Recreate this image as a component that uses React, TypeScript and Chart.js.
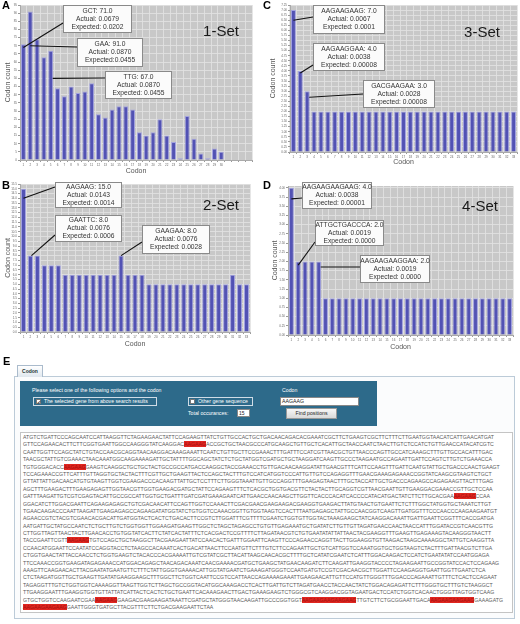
import React, { useEffect, useRef } from "react";
import { Chart, registerables } from "chart.js";

Chart.register(...registerables);

const FONT = '"Liberation Sans", Arial, sans-serif';

// ---------- Data ----------
const codonsA = ["1","2","3","4","5","6","7","8","9","10","11","12","13","14","15","16","17","18","19","20","21","22","23","24","25","26","27","28","29","30","","","",""];
const countsA = [71, 91, 74, 63, 67, 44, 39, 45, 41, 42, 47, 28, 26, 31, 33, 33, 31, 17, 15, 17, 25, 15, 11, 1, 27, 13, 4, 1, 7, 5];

const codonsB = ["1","2","3","4","5","6","7","8","9","10","11","12","13","14","15","16","17","18","19","20","21","22","23","24","25","26","27","28","29","30","31","32","33"];
const countsB = [15, 8, 8, 7, 7, 7, 6, 6, 6, 6, 6, 6, 6, 6, 8, 6, 6, 6, 5, 5, 5, 5, 5, 5, 5, 5, 5, 5, 5, 5, 6, 5, 5];

const codonsC = ["1","2","3","4","5","6","7","8","9","10","11","12","13","14","15","16","17","18","19","20","21","22","23","24","25","26","27","28","29","30","31","32","33"];
const countsC = [7, 4, 3, 2, 2, 2, 2, 2, 2, 2, 2, 2, 2, 2, 2, 2, 2, 2, 2, 2, 2, 2, 2, 2, 2, 2, 2, 2, 2, 2, 2, 2, 2];

const codonsD = ["1","2","3","4","5","6","7","8","9","10","11","12","13","14","15","16","17","18","19","20","21","22","23","24","25","26","27","28","29","30","31","32","33"];
const countsD = [4, 2, 2, 2, 2, 1, 1, 1, 1, 1, 1, 1, 1, 1, 1, 1, 1, 1, 1, 1, 1, 1, 1, 1, 1, 1, 1, 1, 1, 1, 1, 1, 1];

const notesTextA = [
  ["GCT: 71.0", "Actual: 0.0679", "Expected: 0.0202"],
  ["GAA: 91.0", "Actual: 0.0870", "Expected:0.0455"],
  ["TTG: 67.0", "Actual: 0.0870", "Expected: 0.0455"],
];
const notesTextB = [
  ["AAGAAG: 15.0", "Actual: 0.0143", "Expected: 0.0014"],
  ["GAATTC: 8.0", "Actual: 0.0076", "Expected: 0.0006"],
  ["GAAGAA: 8.0", "Actual: 0.0076", "Expected: 0.0028"],
];
const notesTextC = [
  ["AAGAAGAAG: 7.0", "Actual: 0.0067", "Expected: 0.0001"],
  ["AAGAAGGAA: 4.0", "Actual: 0.0038", "Expected: 0.00008"],
  ["GACGAAGAA: 3.0", "Actual: 0.0028", "Expected: 0.00008"],
];
const notesTextD = [
  ["AAGAAGAAGAAG: 4.0", "Actual: 0.0038", "Expected: 0.00001"],
  ["ATTGCTGACCCA: 2.0", "Actual: 0.0019", "Expected: 0.0000"],
  ["AAGAAGAAGGAA: 2.0", "Actual: 0.0019", "Expected: 0.0000"],
];

const sequenceLines = [
  "ATGTCTGATTCCCAGCAATCCATTAAGGTTCTAGAAGAACTATTCCAGAAGTTATCTGTTGCCACTGCTGACAACAGACACGAAATCGCTTCTGAAGTCGCTTCTTTCTTGAATGGTAACATCATTGAACATGAT",
  "GTTCCAGAACACTTCTTCGGTGAATTGGCCAAGGGTATCAAGGAC[AAGAAG]ACCGCTGCTAACGCCCATGCAAGCTGTTGCTCACATTGCTAACCAATCTAACTTGTCTCCATCTGTTGAACCATACATCGTC",
  "CAATTGGTTCCAGCTATCTGTACCAACGCAGGTAACAAGGACAAAGAAATTCAATCTGTTGCTTCCGAAACTTTGATTTCCATCGTTAACGCTGTTAACCCAGTTGCCATCAAAGCTTTGTTGCCACATTTGAC",
  "TAACGCTATTGTCGAAACTAACAAATGGCAAGAAAAGATTGCTATTTTGGCAGCTATCTCTGCTATGGTCGATGCTGCTAAGGATCAAGTTGCCCTAAGAATGCCAGAATTGATTCCAGTCTTGTCTGAAACCA",
  "TGTGGGACACC[AAGAAG]GAAGTCAAGGCTGCTGCTACTGCCGCCATGACCAAGGCTACCGAAACCTGTTGACAACAAGGATATTGAACGTTTCATTCCAAGTTTGATTCAATGTATTGCTGACCCAACTGAAGT",
  "TCCAGAAACCGTTCATTTGTTAGGTGCTACTACTTTCGTTGCTGAAGTTACTCCAGCTACTTTGTCCATCATGGTCCCATTGTTGTCCAGAGGTTTGAACGAAAGAGAAACCGGTATCAAGCGTAAGTCTGCT",
  "GTTATTATTGACAACATGTGTAAGTTGGTCGAAGACCCACAAGTTATTGCTCCTTTCTTGGGTAAATTGTTGCCAGGTTTGAAGAGTAACTTTGCTACCATTGCTGACCCAGAAGCCAGAGAAGTTACTTTGAG",
  "AGCTTTGAAGACTTTGAAGAGAGTTGGTAACGTTGGTGAAGACGATGCTATTCCAGAAGTTTCTCACGCTGGTGACGTTCTACTACTTGCAGGTCGTTAACGAATTGTTGAAGGACGAAACCGTTGCTCCAA",
  "GATTTAAGATTGTCGTCGAGTACATTGCCGCCATTGGTGCTGATTTGATCGATGAAAGAATCATTGAACCAACAAGCTTGGTTCACCCACATCACCCCATACATGACTATCTTCTTGCACGAA[AAGAAG]CCAA",
  "GGACATCTTGGACGAATTCAGAAGAGAGCTGTCGACAACATTCCAGTTGGTCCAAACTTCGACGAACGAAGAAGACGAAGGTGAAGACTTATGTAACTGTGAATTCTCTTTGGCTATGGTGCTAAATCTTGT",
  "TGAACAAGACCCAATTAAGATTGAAGAGAGCCAGAAGATATGGTATCTGTGGTCCAAACGGTTGTGGTAAGTCCACTTTAATGAGAGCTATTGCCAACGGTCAAGTTGATGGTTTCCCAACCCAAGAAGAATGT",
  "AGAACCGTCTACGTCGAACACGACATTGATGGTACTCACTCTGACACTTCCGTCTTGGATTTCGTTTTCGAATCTGGTGTTGGTACTAAAGAAGCTATCAAGGACAAATTGATTGAATTCGGTTTCACCGATGA",
  "AATGATTGCTATGCCAATCTCTGCTTGTCTGGTGGTTGGAAGATGAAGTTGGCTCTAGCTAGAGCCTGTGTTGAGAAATGCTGATATCTTGTTGTTAGATGAACCAACTAACCATTTGGATACCGTCAACGTTG",
  "CTTGGTTAGTTAACTACTTGAACACCTGTGGTATCACTTCTATCACTATTTCTCACGACTCCGTTTTCTTAGATAACGTCTGTGAATATATTATTAACTACGAAGGTTTGAAGTTGAGAAAGTACAAGGGTAACTT",
  "TACCGAATTCGTT[AAGAAG]TGTCCAGCTGCTAAGGCTTACGAAGAATTATCCAACACTGATTTGGAATTCAAGTTCCCAGAACCAGGTTACTTGGAAGGTGTTAAGACTAAGCAAAAGGCTATTGTCAAGGTTA",
  "CCAACATGGAATTCCAATATCCAGGTACCTCTAAGCCACAAATCACTGACATTAACTTCCAATGTTCTTTGTCTTCCAGAATTGCTGTCATTGGTCCAAATGGTGCTGGTAAGTCTACTTTGATTAACGTCTTGA",
  "CTGGTGAACTATTACCAACCTCTGGTGAAGTCTACACCCACGAAAATTGTCGTATCGCTTACATTAAGCAACACGCTTTTGCTCATATCGAATCTCATTTGGACAAGACTCCATCTGAATATATCCAATGGAGA",
  "TTCCAAACCGGTGAAGATAGAGAAACCATGGACAGAGCTAACAGACAAATCAACGAAAACGATGCTGAAGCTATGAACAAGATCTTCAAGATTGAAGGTACCCCTAGAAGAATTGCCGGTATCCACTCCAGAAG",
  "AAAGTTCAAGAACACTTACGAATATGAATGTTCTTTCTATTGGGTGAAAACATTGGTATGAATCTGAAAGATGGGTCCAATGATGTCCGTCGACAACGCTTGGATTCCAAGAGGTGAATTGGTTGAATCTCA",
  "CTCTAAGATGGTTGCTGAAGTTGATATGAAGGAAGCTTTGGCTTCTGGTCAATTCCGTCCATTAACCAGAAAAGAAATTGAAGAACATTGTTCCATGTTGGGTTTGGACCCAGAAATTGTTTCTCACTCCAGAAT",
  "TAGAGGTTTGTCTGGTGGTCAAAAGGTTAAGTTGGTCTTAGCTGCCGGTACATGGCAAAGACCTCACTTGATTGTCTTAGATGAACCTACCAACTATCTGGACAGAGATTCTTTGGGTGCTTTGTCTAAGGCT",
  "TTGAAGGAATTTGAAGGTGGTGTTATTATCATTACTCACTCTGCTGAATTCACAAAGAACTTGACTGAAAGAAGTCTGGGCGTCAAGGACGGTAGAATGACTCCATCTGGTCACAACTGGGTTAGTGGTCAAG",
  "GTGCTGGTCCAAGAATCGAA[AAGAAG]GAAGACGAAGAAGATAAATTCGATGCTATGGGTAACAAGATTGCCCGGTGGT[AAGAAGAAGAAGAAG]TTGTCTTCTGCGGAATTGACA[AAGAAGAAGAAG]GAAAGATG",
  "[AAGAAGAAGAAG]GAATTGGGTGATGCTTACGTTTCTTCTGACGAAGAATTCTAA",
];

// ---------- Panel layout (styling, not data) ----------
type Note = { lines: string[]; box: [number, number, number, number]; from: [number, number]; at: number; value: number; dx?: number };
type Spec = {
  left: number; top: number; w: number; h: number;
  yW: number; xH: number; padTop: number; padRight: number; yTitlePad: number;
  labels: string[]; values: number[]; max: number; step: number; dec: number;
  setName: string; setPos: [number, number]; notes: Note[];
};

const panels: Spec[] = [
  {
    left: 0, top: 0, w: 258, h: 176, yW: 20, xH: 16, padTop: 5, padRight: 6, yTitlePad: 4,
    labels: codonsA, values: countsA, max: 95, step: 5, dec: 0,
    setName: "1-Set", setPos: [221, 32],
    notes: [
      { lines: notesTextA[0], box: [63, 5, 69, 28], from: [63, 23], at: 0, value: 69 },
      { lines: notesTextA[1], box: [77, 38, 66, 29], from: [77, 47], at: 1, value: 70 },
      { lines: notesTextA[2], box: [105, 71, 67, 28], from: [105, 78], at: 4, value: 50, dx: 2 },
    ],
  },
  {
    left: 0, top: 178, w: 258, h: 171, yW: 20, xH: 17, padTop: 6, padRight: 8, yTitlePad: 4,
    labels: codonsB, values: countsB, max: 15.5, step: 0.5, dec: 1,
    setName: "2-Set", setPos: [221, 28],
    notes: [
      { lines: notesTextB[0], box: [55, 4, 67, 26], from: [55, 9], at: 0, value: 14 },
      { lines: notesTextB[1], box: [55, 37, 67, 27], from: [55, 57], at: 1, value: 8, dx: 1 },
      { lines: notesTextB[2], box: [142, 47, 68, 29], from: [142, 64], at: 14, value: 8 },
    ],
  },
  {
    left: 262, top: 0, w: 258, h: 167, yW: 28, xH: 15, padTop: 5, padRight: 3, yTitlePad: 7,
    labels: codonsC, values: countsC, max: 7.25, step: 0.25, dec: 2,
    setName: "3-Set", setPos: [220, 33],
    notes: [
      { lines: notesTextC[0], box: [51, 5, 72, 29], from: [51, 17], at: 0, value: 6.5 },
      { lines: notesTextC[1], box: [51, 43, 72, 28], from: [51, 65], at: 1, value: 3.9 },
      { lines: notesTextC[2], box: [101, 80, 72, 28], from: [101, 94], at: 2, value: 2.7, dx: 2 },
    ],
  },
  {
    left: 262, top: 178, w: 258, h: 174, yW: 26, xH: 17, padTop: 8, padRight: 7, yTitlePad: 9,
    labels: codonsD, values: countsD, max: 4.05, step: 0.25, dec: 2,
    setName: "4-Set", setPos: [218, 29],
    notes: [
      { lines: notesTextD[0], box: [40, 4, 70, 27], from: [40, 20], at: 0, value: 3.7 },
      { lines: notesTextD[1], box: [53, 42, 69, 26], from: [53, 64], at: 1, value: 1.9 },
      { lines: notesTextD[2], box: [98, 77, 70, 28], from: [98, 89], at: 4, value: 1.85, dx: 2 },
    ],
  },
];

function BarPanel({ spec }: { spec: Spec }) {
  const ref = useRef<HTMLCanvasElement>(null);
  useEffect(() => {
    const bgPlugin = {
      id: "plotBg",
      beforeDraw(chart: any) {
        const { ctx, chartArea } = chart;
        ctx.save();
        ctx.fillStyle = "#c8c8c8";
        ctx.fillRect(chartArea.left, chartArea.top, chartArea.right - chartArea.left, chartArea.bottom - chartArea.top);
        ctx.restore();
      },
    };
    const notesPlugin = {
      id: "notes",
      afterDatasetsDraw(chart: any) {
        const ctx = chart.ctx;
        const xs = chart.scales.x;
        const ys = chart.scales.y;
        ctx.save();
        ctx.font = `15px ${FONT}`;
        ctx.fillStyle = "#1a1a1a";
        ctx.textAlign = "center";
        ctx.textBaseline = "middle";
        ctx.fillText(spec.setName, spec.setPos[0], spec.setPos[1]);
        for (const n of spec.notes) {
          const tx = xs.getPixelForValue(n.at) + (n.dx || 0);
          const ty = ys.getPixelForValue(n.value);
          ctx.strokeStyle = "#111";
          ctx.lineWidth = 1.1;
          ctx.beginPath();
          ctx.moveTo(n.from[0], n.from[1]);
          ctx.lineTo(tx, ty);
          ctx.stroke();
          const [bx, by, bw, bh] = n.box;
          ctx.fillStyle = "#fbfbfb";
          ctx.fillRect(bx, by, bw, bh);
          ctx.strokeStyle = "#8a8a8a";
          ctx.lineWidth = 1;
          ctx.strokeRect(bx + 0.5, by + 0.5, bw - 1, bh - 1);
          ctx.fillStyle = "#333";
          ctx.font = `6.7px ${FONT}`;
          n.lines.forEach((t, i) => ctx.fillText(t, bx + bw / 2, by + bh / 2 + (i - 1) * 8));
        }
        ctx.restore();
      },
    };
    const chart = new Chart(ref.current as HTMLCanvasElement, {
      type: "bar",
      data: {
        labels: spec.labels,
        datasets: [
          {
            data: spec.values,
            backgroundColor: "#5252b4",
            borderColor: "#a3a3e0",
            borderWidth: 1,
            barPercentage: 0.72,
            categoryPercentage: 1,
          },
        ],
      },
      options: {
        animation: false,
        responsive: false,
        devicePixelRatio: 1,
        layout: { padding: { top: spec.padTop, right: spec.padRight, left: 0, bottom: 0 } },
        plugins: { legend: { display: false }, tooltip: { enabled: false } },
        scales: {
          x: {
            grid: { color: "rgba(226,226,226,0.85)", tickLength: 2, tickColor: "#999" },
            border: { color: "#aaa" },
            ticks: { font: { size: 3, family: FONT }, color: "#666", autoSkip: false, maxRotation: 0, minRotation: 0, padding: 1 },
            title: { display: true, text: "Codon", font: { size: 7, family: FONT }, color: "#555", padding: { top: 0, bottom: 1 } },
            afterFit: (s: any) => { s.height = spec.xH; },
          },
          y: {
            min: 0,
            max: spec.max,
            grid: { color: "rgba(226,226,226,0.85)", tickLength: 2, tickColor: "#999" },
            border: { color: "#aaa" },
            ticks: {
              stepSize: spec.step,
              autoSkip: false,
              includeBounds: false,
              font: { size: 3, family: FONT },
              color: "#666",
              padding: 1,
              callback: (v: any) => Number(v).toFixed(spec.dec),
            },
            title: { display: true, text: "Codon count", font: { size: 7, family: FONT }, color: "#555", padding: { top: spec.yTitlePad, bottom: 0 } },
            afterFit: (s: any) => { s.width = spec.yW; },
          },
        },
      } as any,
      plugins: [bgPlugin, notesPlugin],
    } as any);
    return () => chart.destroy();
  }, []);
  return (
    <canvas
      ref={ref}
      width={spec.w}
      height={spec.h}
      style={{ position: "absolute", left: spec.left, top: spec.top, width: spec.w, height: spec.h }}
    />
  );
}

function Letter({ t, x, y }: { t: string; x: number; y: number }) {
  return (
    <div style={{ position: "absolute", left: x, top: y, font: `bold 11px ${FONT}`, lineHeight: "11px", color: "#000" }}>{t}</div>
  );
}

function SeqLine({ s }: { s: string }) {
  const parts = s.split(/(\[[A-Z]+\])/).filter((p) => p.length > 0);
  return (
    <div style={{ whiteSpace: "nowrap", height: 7.4, lineHeight: "7.4px" }}>
      {parts.map((p, i) =>
        p.startsWith("[") ? (
          <span key={i} style={{ background: "#e0261f", color: "#a51010" }}>{p.slice(1, -1)}</span>
        ) : (
          <span key={i}>{p}</span>
        )
      )}
    </div>
  );
}

const white5: React.CSSProperties = { position: "absolute", color: "#fff", font: `5.2px ${FONT}`, whiteSpace: "nowrap" };

function PanelE() {
  return (
    <>
      <Letter t="E" x={3} y={356} />
      <div style={{ position: "absolute", left: 14, top: 376, width: 501, height: 243, border: "1px solid #bccbd8", background: "#fbfcfd", boxSizing: "border-box" }} />
      <div style={{ position: "absolute", left: 17, top: 365, width: 26, height: 12, border: "1px solid #aabbcc", borderBottom: "none", background: "linear-gradient(#ffffff,#dfe7ee)", boxSizing: "border-box", font: `bold 5px ${FONT}`, color: "#233", textAlign: "center", lineHeight: "11px" }}>Codon</div>
      <div style={{ position: "absolute", left: 20, top: 381, width: 357, height: 45, background: "#2d6a8a" }} />
      <div style={{ ...white5, left: 32, top: 387 }}>Please select one of the following options and the codon</div>
      <div style={{ position: "absolute", left: 33, top: 397, width: 124, height: 9, border: "1px solid #cfdce6", boxSizing: "border-box" }} />
      <div style={{ position: "absolute", left: 36, top: 399, width: 5, height: 5, background: "#fff", border: "1px solid #777", boxSizing: "border-box", font: `bold 5px ${FONT}`, color: "#222", lineHeight: "4px", textAlign: "center" }}>✓</div>
      <div style={{ ...white5, left: 44, top: 398 }}>The selected gene from above search results</div>
      <div style={{ position: "absolute", left: 188, top: 397, width: 65, height: 9, border: "1px solid #cfdce6", boxSizing: "border-box" }} />
      <div style={{ position: "absolute", left: 190, top: 399, width: 5, height: 5, background: "#fff", border: "1px solid #777", boxSizing: "border-box" }} />
      <div style={{ ...white5, left: 198, top: 398 }}>Other gene sequence</div>
      <div style={{ ...white5, left: 188, top: 410 }}>Total occurances:</div>
      <div style={{ position: "absolute", left: 237, top: 409, width: 13, height: 8, background: "#fff", border: "1px solid #888", boxSizing: "border-box", font: `5px ${FONT}`, color: "#222", lineHeight: "6px", paddingLeft: 1 }}>15</div>
      <div style={{ ...white5, left: 282, top: 387 }}>Codon</div>
      <div style={{ position: "absolute", left: 280, top: 397, width: 79, height: 9, background: "#fff", border: "1px solid #888", boxSizing: "border-box", font: `5.2px ${FONT}`, color: "#222", lineHeight: "7px", paddingLeft: 1 }}>AAGAAG</div>
      <div style={{ position: "absolute", left: 286, top: 408, width: 51, height: 11, background: "linear-gradient(#f7f7f7,#d9d9d9)", border: "1px solid #999", boxSizing: "border-box", font: `5.2px ${FONT}`, color: "#222", lineHeight: "9px", textAlign: "center" }}>Find positions</div>
      <div style={{ position: "absolute", left: 20, top: 432, width: 493, height: 181, border: "1px solid #c4c4c4", background: "#fff", boxSizing: "border-box", overflow: "hidden", padding: "1px 0 0 2px", font: `5.2px ${FONT}`, color: "#5a5a5a" }}>
        {sequenceLines.map((s, i) => (
          <SeqLine key={i} s={s} />
        ))}
      </div>
    </>
  );
}

export default function App() {
  return (
    <div style={{ position: "absolute", left: 0, top: 0, width: 520, height: 624, background: "#fff", overflow: "hidden" }}>
      {panels.map((p, i) => (
        <BarPanel key={i} spec={p} />
      ))}
      <Letter t="A" x={2} y={0} />
      <Letter t="B" x={2} y={180} />
      <Letter t="C" x={263} y={0} />
      <Letter t="D" x={263} y={180} />
      <PanelE />
    </div>
  );
}
